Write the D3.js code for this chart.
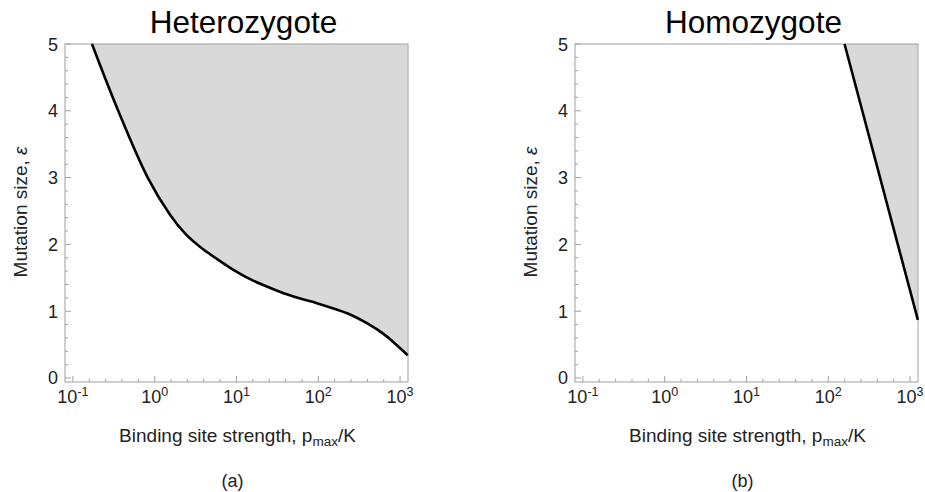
<!DOCTYPE html>
<html><head><meta charset="utf-8">
<script src="https://cdn.jsdelivr.net/npm/d3@7"></script>
<style>body{margin:0;background:#fff}svg{display:block}text{font-family:"Liberation Sans",Arial,sans-serif}</style>
</head><body><svg id="c" width="925" height="492"></svg>
<script>
// Data
const titles = ["Heterozygote", "Homozygote"];
const captions = ["(a)", "(b)"];
const hetX = [0.171, 0.358, 0.821, 1.547, 2.36, 3.60, 5.49, 8.37, 14.7, 23.5, 37.6, 60.1, 96.1, 153, 245, 393, 627, 914, 1240];
const hetY = [5.0, 4.0, 3.0, 2.44, 2.16, 1.96, 1.80, 1.65, 1.48, 1.37, 1.27, 1.19, 1.12, 1.04, 0.95, 0.82, 0.66, 0.49, 0.34];
const homX = [158, 1245];
const homY = [5, 0.87];
const xTickExps = [-1, 0, 1, 2, 3];
const yTicks = [0, 1, 2, 3, 4, 5];
const xDomain = [0.08, 1250];
const yDomain = [-0.06, 5];

const svg = d3.select("#c");
const panels = [
  {x0: 65, x1: 408, xs: hetX, ys: hetY},
  {x0: 575, x1: 918, xs: homX, ys: homY}
];
const plotTop = 44, plotBottom = 382;
const frameCol = "#a0a0a0";

panels.forEach((p, i) => {
  const g = svg.append("g");
  const x = d3.scaleLog().domain(xDomain).range([p.x0, p.x1]);
  const y = d3.scaleLinear().domain(yDomain).range([plotBottom, plotTop]);
  const pts = p.xs.map((v, k) => [v, p.ys[k]]);
  const crv = d3.curveCatmullRom.alpha(0.5);

  // shaded region
  g.append("path")
    .datum(pts)
    .attr("fill", "#d9d9d9")
    .attr("d", d3.area().x(d => x(d[0])).y0(y(5)).y1(d => y(d[1])).curve(crv));

  // frame
  g.append("rect").attr("x", p.x0).attr("y", plotTop).attr("width", p.x1 - p.x0).attr("height", plotBottom - plotTop)
    .attr("fill", "none").attr("stroke", frameCol).attr("stroke-width", 1);

  // x ticks (inward)
  xTickExps.forEach(e => {
    const xv = x(Math.pow(10, e));
    g.append("line").attr("x1", xv).attr("x2", xv).attr("y1", plotBottom).attr("y2", plotBottom - 6)
      .attr("stroke", frameCol).attr("stroke-width", 1);
    const t = g.append("text").attr("x", xv).attr("y", 403).attr("text-anchor", "middle")
      .attr("font-size", 18).attr("fill", "#222");
    t.append("tspan").text("10");
    t.append("tspan").attr("dy", -7).attr("font-size", 12.5).text(String(e));
    if (e < 3) {
      for (let m = 1; m < 5; m++) {
        const xm = x(Math.pow(10, e + m * 0.2));
        g.append("line").attr("x1", xm).attr("x2", xm).attr("y1", plotBottom).attr("y2", plotBottom - 3)
          .attr("stroke", frameCol).attr("stroke-width", 1);
      }
    }
  });
  // y ticks (inward)
  yTicks.forEach(v => {
    const yv = y(v);
    g.append("line").attr("x1", p.x0).attr("x2", p.x0 + 6).attr("y1", yv).attr("y2", yv)
      .attr("stroke", frameCol).attr("stroke-width", 1);
    g.append("text").attr("x", p.x0 - 7).attr("y", yv + 6.5).attr("text-anchor", "end")
      .attr("font-size", 18).attr("fill", "#222").text(v);
    if (v < 5) {
      for (let m = 1; m < 5; m++) {
        const ym = y(v + m * 0.2);
        g.append("line").attr("x1", p.x0).attr("x2", p.x0 + 3).attr("y1", ym).attr("y2", ym)
          .attr("stroke", frameCol).attr("stroke-width", 1);
      }
    }
  });

  // boundary curve
  g.append("path").datum(pts).attr("fill", "none").attr("stroke", "#000").attr("stroke-width", 2.6)
    .attr("d", d3.line().x(d => x(d[0])).y(d => y(d[1])).curve(crv));

  const cx = (p.x0 + p.x1) / 2;
  // title
  g.append("text").attr("x", cx + 7).attr("y", 33).attr("text-anchor", "middle")
    .attr("font-size", 31.5).attr("fill", "#000").text(titles[i]);
  // x label
  const xl = g.append("text").attr("x", cx + 1).attr("y", 442).attr("text-anchor", "middle")
    .attr("font-size", 19).attr("fill", "#222");
  xl.append("tspan").text("Binding site strength, p");
  xl.append("tspan").attr("font-size", 13.5).attr("dy", 4).text("max");
  xl.append("tspan").attr("dy", -4).text("/K");
  // y label
  const yl = g.append("text").attr("transform", `translate(${p.x0 - 38},${(plotTop + plotBottom) / 2 - 1}) rotate(-90)`)
    .attr("text-anchor", "middle").attr("font-size", 19).attr("fill", "#222");
  yl.append("tspan").text("Mutation size, ");
  yl.append("tspan").attr("font-style", "italic").text("ε");
  // caption
  g.append("text").attr("x", cx - 4).attr("y", 487).attr("text-anchor", "middle")
    .attr("font-size", 18).attr("fill", "#222").text(captions[i]);
});
</script></body></html>
